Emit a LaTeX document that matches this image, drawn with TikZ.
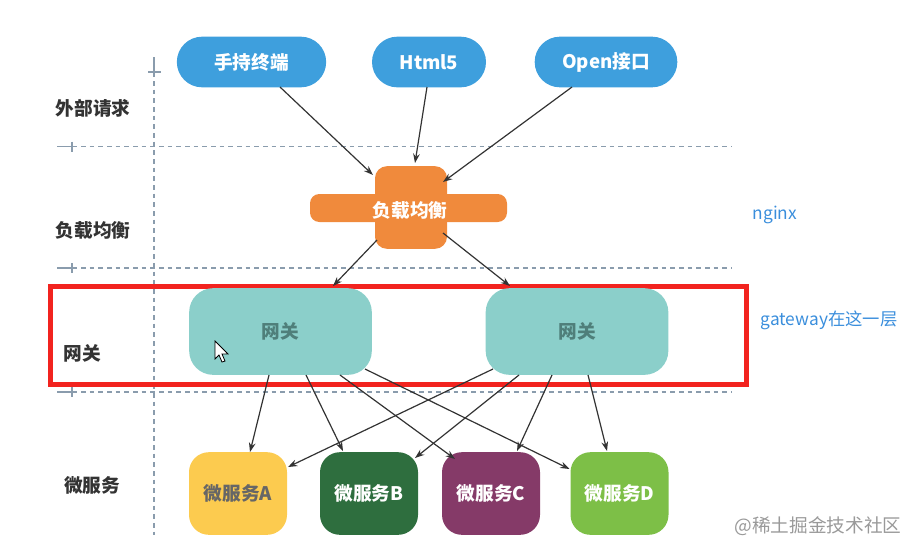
\documentclass[tikz,border=0pt]{standalone}
\usepackage{fontspec}
\setmainfont{Noto Sans CJK SC}
\usetikzlibrary{arrows.meta,calc}

\definecolor{guidegray}{HTML}{8A9CAD}
\definecolor{pillblue}{HTML}{3E9FDD}
\definecolor{lborange}{HTML}{F08A3C}
\definecolor{gwteal}{HTML}{8BCFCA}
\definecolor{gwtext}{HTML}{4F7F7A}
\definecolor{svcyellow}{HTML}{FCCB4F}
\definecolor{svcgreen}{HTML}{2E6E3E}
\definecolor{svcplum}{HTML}{853A68}
\definecolor{svclime}{HTML}{7DBF47}
\definecolor{markred}{HTML}{F2231F}
\definecolor{noteblue}{HTML}{3A8EDC}

\begin{document}
\begin{tikzpicture}[x=0.75pt, y=-0.75pt]
  \tikzset{
    guide/.style={draw=guidegray, line width=0.8pt, dash pattern=on 3.5pt off 3pt},
    tick/.style={draw=guidegray, line width=0.8pt},
    rowlbl/.style={font=\fontsize{14}{16}\selectfont\bfseries, text=black!80},
    pill/.style={fill=pillblue, rounded corners=19pt, inner sep=0pt, minimum height=38pt, font=\fontsize{14}{16}\selectfont\bfseries, text=white},
    gw/.style={fill=gwteal, rounded corners=18pt, inner sep=0pt, minimum width=137pt, minimum height=65pt, font=\fontsize{14}{16}\selectfont\bfseries, text=gwtext},
    svc/.style={rounded corners=15pt, inner sep=0pt, minimum width=73.5pt, minimum height=62pt, font=\fontsize{14}{16}\selectfont\bfseries, text=white},
    link/.style={draw=black!80, line width=0.9pt, -{Stealth[length=7pt,width=5pt]}},
    note/.style={font=\fontsize{13}{15}\selectfont, text=noteblue}
  }
  \useasboundingbox (0,0) rectangle (912,551);

  % Guide lines
  \draw[tick] (154,57) -- (154,77);
  \draw[tick] (148,72) -- (161,72);
  \draw[guide] (154,81) -- (154,535);
  \foreach \y in {146.5, 268, 392} {
    \draw[tick] (57,\y) -- (77,\y);
    \draw[tick] (72,\y-5) -- (72,\y+5);
    \draw[guide] (81,\y) -- (732,\y);
  }

  % Row labels
  \node[rowlbl] (rowReq) at (93,108) {外部请求};
  \node[rowlbl] (rowLb) at (93,230) {负载均衡};
  \node[rowlbl] (rowGw) at (82,353) {网关};
  \node[rowlbl] (rowSvc) at (92,485) {微服务};

  % Outside requests
  \node[pill, minimum width=112pt] (hand) at (251.5,62) {手持终端};
  \node[pill, minimum width=85.5pt] (html) at (429,62) {Html5};
  \node[pill, minimum width=107pt] (open) at (606,62) {Open接口};

  % Load balancer
  \fill[lborange, rounded corners=7pt] (310,194) rectangle (507,222);
  \node[fill=lborange, rounded corners=9pt, inner sep=0pt, minimum width=54pt, minimum height=62pt] (lb) at (411,207.5) {};
  \node[font=\fontsize{14}{16}\selectfont\bfseries, text=white] (lbtxt) at (410,210) {负载均衡};

  % Gateway layer
  \draw[markred, line width=3.75pt] (50.5,286.5) rectangle (746.5,384);
  \node[gw] (gwL) at (280.5,331.5) {网关};
  \node[gw] (gwR) at (577,331.5) {网关};

  % Micro services
  \node[svc, fill=svcyellow, text=black!60] (svcA) at (238,493.5) {微服务A};
  \node[svc, fill=svcgreen] (svcB) at (369,493.5) {微服务B};
  \node[svc, fill=svcplum] (svcC) at (491,493.5) {微服务C};
  \node[svc, fill=svclime] (svcD) at (619.5,493.5) {微服务D};

  % Connectors
  \draw[link] ($(hand)+(28.5,25)$) -- ($(lb)+(-38,-32.5)$);
  \draw[link] ($(html)+(-2,25)$) -- ($(lb)+(4,-44.5)$);
  \draw[link] ($(open)+(-34,25)$) -- ($(lb)+(32,-25.5)$);
  \draw[link] ($(lb)+(-34,32.5)$) -- ($(gwL)+(52.5,-45.5)$);
  \draw[link] ($(lb)+(32,25.5)$) -- ($(gwR)+(-67,-45.5)$);

  \draw[link] ($(gwL)+(-11.5,43.5)$) -- ($(svcA)+(12,-41.5)$);
  \draw[link] ($(gwL)+(25.5,43.5)$) -- ($(svcB)+(-26,-42.5)$);
  \draw[link] ($(gwL)+(59.5,43.5)$) -- ($(svcC)+(-36,-34.5)$);
  \draw[link] ($(gwL)+(84.5,37.5)$) -- ($(svcD)+(-50,-24.5)$);

  \draw[link] ($(gwR)+(-84,37.5)$) -- ($(svcA)+(50,-26.5)$);
  \draw[link] ($(gwR)+(-58,43.5)$) -- ($(svcB)+(46,-35.5)$);
  \draw[link] ($(gwR)+(-25,43.5)$) -- ($(svcC)+(26,-42.5)$);
  \draw[link] ($(gwR)+(11,43.5)$) -- ($(svcD)+(-12.5,-42.5)$);

  % Mouse pointer
  \draw[fill=white, line width=0.6pt] (215,341) -- (215,359) -- (219,355) -- (222,362) -- (225,361) -- (222,354) -- (228,354) -- cycle;

  % Notes
  \node[note] (noteLb) at (775,215) {nginx};
  \node[note] (noteGw) at (829,320) {gateway在这一层};
  \node[font=\fontsize{14}{16}\selectfont, text=black!40] (mark) at (818,526) {@稀土掘金技术社区};

\end{tikzpicture}
\end{document}
